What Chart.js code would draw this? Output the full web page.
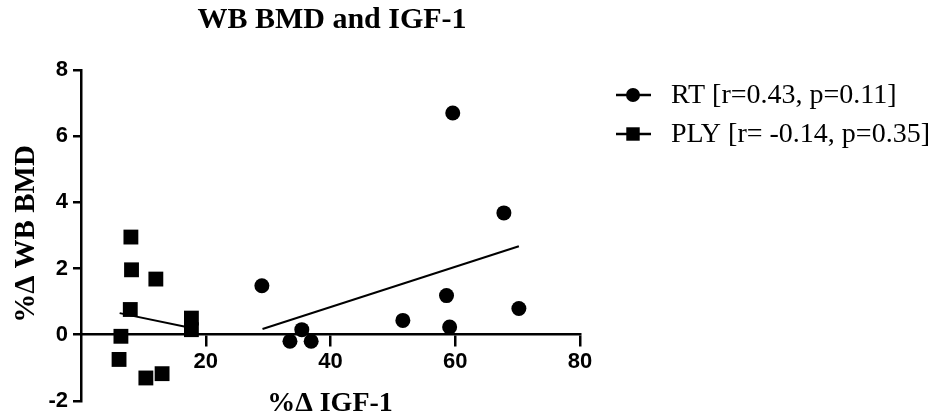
<!DOCTYPE html>
<html>
<head>
<meta charset="utf-8">
<script src="https://cdn.jsdelivr.net/npm/chart.js@4/dist/chart.umd.min.js"></script>
<style>
  html, body { margin: 0; padding: 0; background: #fff; }
  canvas { display: block; }
</style>
</head>
<body>
<canvas id="chart" width="938" height="419"></canvas>
<script>
var chartTitle = 'WB BMD and IGF-1';
var xTitle = '%\u0394 IGF-1';
var yTitle = '%\u0394 WB BMD';

var rtLabel = 'RT [r=0.43, p=0.11]';
var rtX = [59.6, 67.8, 29.0, 58.6, 70.2, 51.6, 59.1, 35.4, 33.5, 36.9];
var rtY = [6.70, 3.68, 1.48, 1.18, 0.79, 0.43, 0.23, 0.15, -0.20, -0.20];
var rtFitX = [29.1, 70.2];
var rtFitY = [0.17, 2.67];

var plyLabel = 'PLY [r= -0.14, p=0.35]';
var plyX = [8.0, 8.1, 12.0, 7.9, 17.7, 17.7, 6.4, 6.1, 10.4, 13.0];
var plyY = [2.95, 1.96, 1.68, 0.76, 0.50, 0.15, -0.05, -0.75, -1.31, -1.18];
var plyFitX = [6.2, 17.7];
var plyFitY = [0.65, 0.20];

var xTicks = [20, 40, 60, 80];
var yTicks = [-2, 0, 2, 4, 6, 8];

function pairs(xs, ys) {
  return xs.map(function(x, i) { return { x: x, y: ys[i] }; });
}

var tickFont = { family: 'Liberation Sans', size: 22, weight: 'bold' };

var textPlugin = {
  id: 'prismText',
  afterDraw: function(chart) {
    var ctx = chart.ctx;
    ctx.save();
    ctx.fillStyle = '#000';
    ctx.textAlign = 'center';
    ctx.textBaseline = 'middle';
    ctx.font = 'bold 30px "Liberation Serif"';
    ctx.fillText(chartTitle, 332, 20);
    ctx.font = 'bold 28px "Liberation Serif"';
    ctx.fillText(xTitle, 330, 404);
    ctx.save();
    ctx.translate(27, 234);
    ctx.rotate(-Math.PI / 2);
    ctx.font = 'bold 29px "Liberation Serif"';
    ctx.fillText(yTitle, 0, 0);
    ctx.restore();

    // legend: line with marker, like the original
    var rows = [
      { text: rtLabel, style: 'circle', radius: 7, y: 95 },
      { text: plyLabel, style: 'rect', radius: 9.5, y: 134 }
    ];
    ctx.textAlign = 'left';
    ctx.font = '28px "Liberation Serif"';
    rows.forEach(function(r) {
      ctx.strokeStyle = '#000';
      ctx.lineWidth = 2.5;
      ctx.beginPath();
      ctx.moveTo(616, r.y);
      ctx.lineTo(651, r.y);
      ctx.stroke();
      ctx.fillStyle = '#000';
      Chart.helpers.drawPoint(ctx, { pointStyle: r.style, radius: r.radius, rotation: 0, borderWidth: 0 }, 633, r.y);
      ctx.fillStyle = '#000';
      ctx.fillText(r.text, 671, r.y + 1);
    });
    ctx.restore();
  }
};

var config = {
  type: 'scatter',
  data: {
    datasets: [
      {
        label: rtLabel,
        data: pairs(rtX, rtY),
        pointStyle: 'circle',
        pointRadius: 7.5,
        backgroundColor: '#000',
        borderColor: '#000',
        borderWidth: 0
      },
      {
        label: plyLabel,
        data: pairs(plyX, plyY),
        pointStyle: 'rect',
        pointRadius: 10.5,
        backgroundColor: '#000',
        borderColor: '#000',
        borderWidth: 0
      },
      {
        label: 'RT fit',
        data: pairs(rtFitX, rtFitY),
        showLine: true,
        pointRadius: 0,
        borderColor: '#000',
        borderWidth: 2
      },
      {
        label: 'PLY fit',
        data: pairs(plyFitX, plyFitY),
        showLine: true,
        pointRadius: 0,
        borderColor: '#000',
        borderWidth: 2
      }
    ]
  },
  options: {
    responsive: false,
    animation: false,
    clip: false,
    layout: { padding: { left: 0, top: 70, right: 358, bottom: 18 } },
    plugins: {
      legend: { display: false },
      title: { display: false },
      tooltip: { enabled: false }
    },
    scales: {
      x: {
        type: 'linear',
        position: { y: 0 },
        min: 0,
        max: 80,
        afterBuildTicks: function(scale) {
          scale.ticks = xTicks.map(function(v) { return { value: v }; });
        },
        border: { display: true, color: '#000', width: 2.5 },
        grid: {
          drawOnChartArea: false,
          drawTicks: true,
          tickLength: 11,
          color: '#000',
          lineWidth: 2.5
        },
        ticks: { color: '#000', font: tickFont, padding: 3, maxRotation: 0 }
      },
      y: {
        type: 'linear',
        min: -2,
        max: 8,
        afterFit: function(scale) { scale.width = 81; },
        afterBuildTicks: function(scale) {
          scale.ticks = yTicks.map(function(v) { return { value: v }; });
        },
        border: { display: true, color: '#000', width: 2.5 },
        grid: {
          drawOnChartArea: false,
          drawTicks: true,
          tickLength: 8,
          color: '#000',
          lineWidth: 2.5
        },
        ticks: { color: '#000', font: tickFont, padding: 5 }
      }
    }
  },
  plugins: [textPlugin]
};

window.onload = function() {
  var ctx = document.getElementById('chart').getContext('2d');
  window.myChart = new Chart(ctx, config);
};
</script>
</body>
</html>
